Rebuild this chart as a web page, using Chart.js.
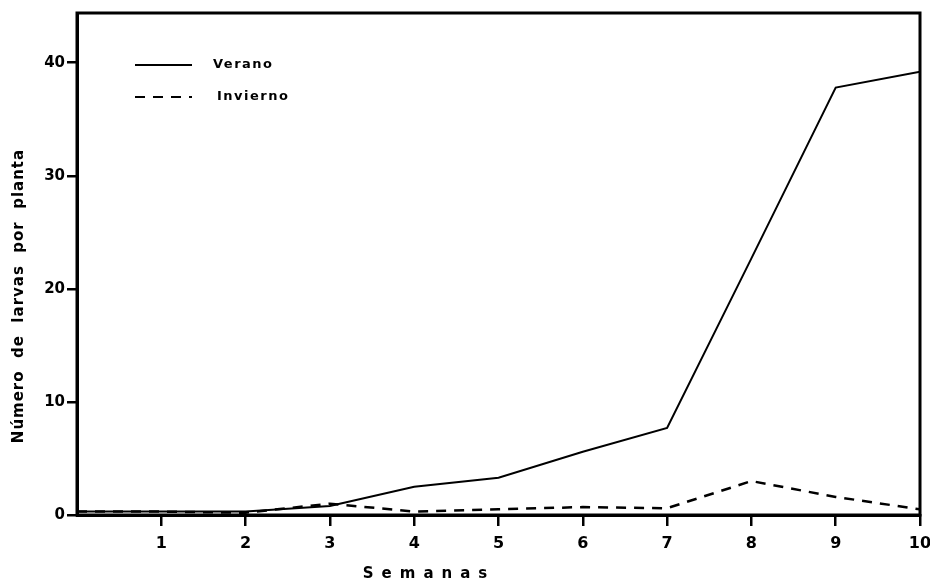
<!DOCTYPE html>
<html>
<head>
<meta charset="utf-8">
<script src="https://cdn.jsdelivr.net/npm/chart.js@4.4.1/dist/chart.umd.min.js"></script>
<style>
  html, body { margin: 0; padding: 0; background: #fff; }
  #wrap { width: 930px; height: 584px; }
</style>
</head>
<body>
<div id="wrap"><canvas id="chart" width="930" height="584"></canvas></div>
<script>
const semanas = [0, 1, 2, 3, 4, 5, 6, 7, 8, 9, 10];
const verano = [0.3, 0.3, 0.3, 0.8, 2.5, 3.3, 5.6, 7.7, 22.7, 37.8, 39.2];
const invierno = [0.3, 0.3, 0.2, 1.0, 0.3, 0.5, 0.7, 0.6, 3.0, 1.6, 0.5];
const yTicks = [0, 10, 20, 30, 40];
const xTicks = [1, 2, 3, 4, 5, 6, 7, 8, 9, 10];

const FONT = '"DejaVu Sans", sans-serif';

// box around the plot + legend + axis titles
const decor = {
  id: 'decor',
  afterDraw(chart) {
    const { ctx, chartArea: a } = chart;
    ctx.save();
    ctx.strokeStyle = '#000';
    ctx.lineWidth = 3;
    ctx.strokeRect(a.left, a.top, a.right - a.left, a.bottom - a.top);

    // legend
    chart.data.datasets.forEach((ds, i) => {
      const y = 65 + i * 32;
      ctx.lineWidth = 2;
      ctx.setLineDash(ds.borderDash || []);
      ctx.beginPath();
      ctx.moveTo(135, y);
      ctx.lineTo(192, y);
      ctx.stroke();
      ctx.setLineDash([]);
      ctx.fillStyle = '#000';
      ctx.font = 'bold 13px ' + FONT;
      ctx.letterSpacing = '1.5px';
      ctx.textBaseline = 'middle';
      ctx.textAlign = 'left';
      ctx.fillText(ds.label, i === 0 ? 213 : 217, y);
    });

    // axis titles
    ctx.font = 'bold 15px ' + FONT;
    ctx.letterSpacing = '8px';
    ctx.textAlign = 'center';
    ctx.fillText('Semanas', 429, 574);

    ctx.translate(19, 296);
    ctx.rotate(-Math.PI / 2);
    ctx.letterSpacing = '1px';
    ctx.fillText('Número  de  larvas  por  planta', 0, 0);
    ctx.restore();
  }
};

new Chart(document.getElementById('chart'), {
  type: 'line',
  data: {
    labels: semanas,
    datasets: [
      {
        label: 'Verano',
        data: semanas.map((x, i) => ({ x, y: verano[i] })),
        borderColor: '#000',
        borderWidth: 2,
        pointRadius: 0,
        tension: 0
      },
      {
        label: 'Invierno',
        data: semanas.map((x, i) => ({ x, y: invierno[i] })),
        borderColor: '#000',
        borderWidth: 2.5,
        borderDash: [10, 8],
        pointRadius: 0,
        tension: 0
      }
    ]
  },
  options: {
    responsive: false,
    animation: false,
    layout: { padding: { top: 13, right: 10, left: 0, bottom: 0 } },
    plugins: { legend: { display: false }, tooltip: { enabled: false } },
    scales: {
      x: {
        type: 'linear',
        min: 0,
        max: 10,
        afterBuildTicks: s => { s.ticks = xTicks.map(v => ({ value: v })); },
        afterFit: s => { s.height = 69; s.paddingRight = 0; s.paddingLeft = 0; },
        border: { display: true, color: '#000', width: 3 },
        grid: { drawOnChartArea: false, drawTicks: true, tickLength: 11, color: '#000', lineWidth: 2.5 },
        ticks: {
          color: '#000',
          padding: 8,
          font: { family: FONT, weight: 'bold', size: 16 }
        }
      },
      y: {
        min: 0,
        max: 44.4,
        afterBuildTicks: s => { s.ticks = yTicks.map(v => ({ value: v })); },
        afterFit: s => { s.width = 77; s.paddingTop = 0; s.paddingBottom = 0; },
        border: { display: true, color: '#000', width: 3 },
        grid: { drawOnChartArea: false, drawTicks: true, tickLength: 10, color: '#000', lineWidth: 2.5 },
        ticks: {
          color: '#000',
          padding: 2,
          font: { family: FONT, weight: 'bold', size: 15 }
        }
      }
    }
  },
  plugins: [decor]
});
</script>
</body>
</html>
